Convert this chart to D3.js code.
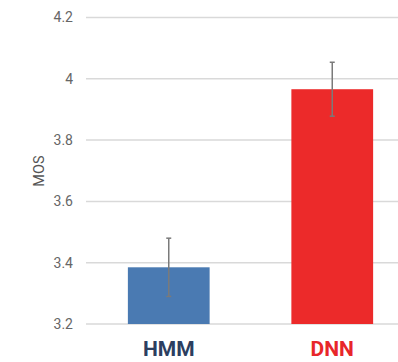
<!DOCTYPE html>
<html>
<head>
<meta charset="utf-8">
<script src="https://cdn.jsdelivr.net/npm/d3@7"></script>
<style>
  body { margin: 0; background: #fff; }
</style>
</head>
<body>
<div id="chart"></div>
<script>
var categories = ['HMM', 'DNN'];
var mosValues = [3.385, 3.966];
var errValues = [0.095, 0.088];
var tickValues = [3.2, 3.4, 3.6, 3.8, 4.0, 4.2];
var barColors = ['#4a7ab2', '#ec2a2a'];
var labelColors = ['#2c3e5f', '#e8262a'];

var width = 398, height = 362;

var svg = d3.select('#chart')
    .append('svg')
    .attr('width', width)
    .attr('height', height);

var y = d3.scaleLinear()
    .domain([3.2, 4.2])
    .range([324, 17.5]);

var x = d3.scaleBand()
    .domain(categories)
    .range([87, 414])
    .paddingInner(0.5)
    .paddingOuter(0.25);

// gridlines
svg.append('g')
    .selectAll('line')
    .data(tickValues)
    .enter()
    .append('line')
    .attr('x1', 86)
    .attr('x2', width)
    .attr('y1', function(d) { return y(d); })
    .attr('y2', function(d) { return y(d); })
    .style('stroke', '#d9d9d9')
    .style('stroke-width', '1.5px');

// y tick labels
svg.append('g')
    .selectAll('text')
    .data(tickValues)
    .enter()
    .append('text')
    .attr('x', 73)
    .attr('y', function(d) { return y(d); })
    .attr('dy', '0.35em')
    .attr('text-anchor', 'end')
    .style('font-family', 'Roboto, Arial, sans-serif')
    .style('font-size', '14px')
    .style('fill', '#666')
    .text(function(d) { return d3.format('~g')(d); });

// axis title
svg.append('text')
    .attr('transform', 'translate(44,171) rotate(-90)')
    .attr('text-anchor', 'middle')
    .style('font-family', 'Roboto, Arial, sans-serif')
    .style('font-size', '14.5px')
    .style('fill', '#555')
    .text('MOS');

// bars
svg.append('g')
    .selectAll('rect')
    .data(categories)
    .enter()
    .append('rect')
    .attr('x', function(d) { return x(d); })
    .attr('width', x.bandwidth())
    .attr('y', function(d, i) { return y(mosValues[i]); })
    .attr('height', function(d, i) { return y(3.2) - y(mosValues[i]); })
    .style('fill', function(d, i) { return barColors[i]; });

// error bars
var gErr = svg.append('g')
    .style('stroke', '#7a7a7a')
    .style('stroke-width', '1.5px');

categories.forEach(function(c, i) {
    var cx = x(c) + x.bandwidth() / 2;
    var top = y(mosValues[i] + errValues[i]);
    var bot = y(mosValues[i] - errValues[i]);
    gErr.append('line').attr('x1', cx).attr('x2', cx).attr('y1', top).attr('y2', bot);
    gErr.append('line').attr('x1', cx - 2.5).attr('x2', cx + 2.5).attr('y1', top).attr('y2', top);
    gErr.append('line').attr('x1', cx - 2.5).attr('x2', cx + 2.5).attr('y1', bot).attr('y2', bot);
});

// category labels
svg.append('g')
    .selectAll('text')
    .data(categories)
    .enter()
    .append('text')
    .attr('x', function(d) { return x(d) + x.bandwidth() / 2; })
    .attr('y', 356)
    .attr('text-anchor', 'middle')
    .style('font-family', 'Roboto, Arial, sans-serif')
    .style('font-weight', 'bold')
    .style('font-size', '21px')
    .style('fill', function(d, i) { return labelColors[i]; })
    .text(function(d) { return d; });
</script>
</body>
</html>
